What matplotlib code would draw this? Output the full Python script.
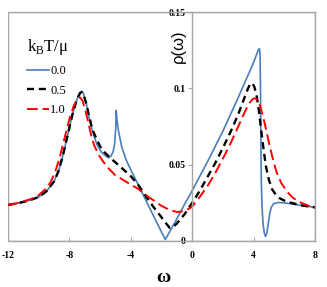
import matplotlib
matplotlib.use("Agg")
import matplotlib.pyplot as plt
from matplotlib.patches import Rectangle

# ---- data ----
x_t0 = [-12, -11.5, -11, -10.5, -10, -9.5, -9.0, -8.7, -8.4, -8.1, -7.8, -7.5, -7.3, -7.2, -7.1,
        -6.9, -6.7, -6.5, -6.2, -5.9, -5.6, -5.45, -5.3, -5.15, -5.05, -4.98, -4.95, -4.9, -4.8,
        -4.6, -4.3, -4.0, -3.5, -3.0, -2.5, -2.0, -1.75, -1.5, -1.0, -0.5, 0, 0.5, 1, 1.5, 2, 2.5,
        3, 3.5, 4, 4.3, 4.38, 4.42, 4.45, 4.47, 4.5, 4.55, 4.62, 4.7, 4.78, 4.86, 4.95, 5.05, 5.15,
        5.3, 5.6, 6, 7, 8]
rho_t0 = [0.0236, 0.0245, 0.0256, 0.027, 0.0288, 0.0325, 0.039, 0.046, 0.057, 0.070, 0.083, 0.093,
          0.0975, 0.098, 0.097, 0.090, 0.080, 0.072, 0.063, 0.058, 0.0555, 0.0545, 0.0555, 0.0585,
          0.064, 0.074, 0.0855, 0.079, 0.072, 0.062, 0.053, 0.0467, 0.0365, 0.0263, 0.016, 0.0059,
          0.001, 0.0055, 0.0145, 0.024, 0.033, 0.0425, 0.052, 0.062, 0.072, 0.083, 0.094, 0.1055,
          0.117, 0.125, 0.126, 0.122, 0.100, 0.070, 0.040, 0.022, 0.011, 0.005, 0.003, 0.005, 0.011,
          0.018, 0.022, 0.0245, 0.0252, 0.025, 0.0235, 0.022]

x_t05 = [-12, -11.5, -11, -10.5, -10, -9.5, -9.0, -8.7, -8.4, -8.1, -7.8, -7.5, -7.3, -7.2, -7.1,
         -6.9, -6.7, -6.5, -6.2, -6.0, -5.7, -5.4, -5.0, -4.5, -4.0, -3.5, -3.0, -2.5, -2.0, -1.7,
         -1.45, -1.2, -1.0, -0.5, 0, 0.5, 1, 1.5, 2, 2.5, 3, 3.3, 3.6, 3.75, 3.9, 4.05, 4.2, 4.35,
         4.5, 4.65, 4.8, 5.0, 5.2, 5.4, 5.7, 6.1, 7, 8]
rho_t05 = [0.0236, 0.0245, 0.0256, 0.027, 0.0288, 0.0325, 0.039, 0.046, 0.057, 0.070, 0.083, 0.093,
           0.097, 0.0975, 0.0965, 0.090, 0.081, 0.073, 0.066, 0.062, 0.058, 0.055, 0.0515, 0.047,
           0.0425, 0.0365, 0.029, 0.022, 0.0155, 0.0115, 0.0085, 0.0095, 0.0115, 0.0175, 0.025,
           0.033, 0.042, 0.051, 0.061, 0.0715, 0.083, 0.091, 0.099, 0.1025, 0.1035, 0.101, 0.095,
           0.085, 0.072, 0.060, 0.049, 0.040, 0.034, 0.031, 0.028, 0.026, 0.0235, 0.022]

x_t10 = [-12, -11.5, -11, -10.5, -10, -9.5, -9.2, -8.9, -8.6, -8.3, -8.0, -7.7, -7.45, -7.3, -7.15,
         -7.0, -6.8, -6.6, -6.4, -6.1, -5.8, -5.4, -5.0, -4.5, -4.0, -3.5, -3.0, -2.5, -2.0, -1.5,
         -1.0, -0.5, 0, 0.5, 1.0, 1.5, 2.0, 2.5, 3.0, 3.4, 3.7, 3.95, 4.1, 4.3, 4.5, 4.7, 4.9, 5.1,
         5.3, 5.5, 5.8, 6.2, 6.6, 7.1, 7.6, 8]
rho_t10 = [0.0236, 0.0245, 0.026, 0.0275, 0.030, 0.0345, 0.039, 0.046, 0.056, 0.068, 0.080, 0.089,
           0.0935, 0.094, 0.092, 0.087, 0.079, 0.070, 0.063, 0.0565, 0.052, 0.047, 0.043, 0.040,
           0.037, 0.034, 0.030, 0.0265, 0.023, 0.0205, 0.019, 0.0195, 0.0225, 0.029, 0.036, 0.0445,
           0.054, 0.064, 0.075, 0.084, 0.090, 0.093, 0.0935, 0.092, 0.086, 0.078, 0.069, 0.060,
           0.052, 0.045, 0.038, 0.032, 0.028, 0.025, 0.023, 0.022]

legend_labels = ["0.0", "0.5", "1.0"]
x_ticks = [-12, -8, -4, 0, 4, 8]
x_ticklabels = ["-12", "-8", "-4", "0", "4", "8"]
y_ticks = [0, 0.05, 0.1, 0.15]
y_ticklabels = ["0", "0.05", "0.1", "0.15"]

W, H = 327, 287
fig = plt.figure(figsize=(W / 100, H / 100), dpi=100)
ax = fig.add_axes([8 / W, (H - 241) / H, (315 - 8) / W, (241 - 12) / H])

ax.plot(x_t0, rho_t0, color="#4a7ebb", lw=1.2, label=legend_labels[0])
ax.plot(x_t05, rho_t05, color="black", lw=1.7, dashes=(3.0, 2.0), label=legend_labels[1])
ax.plot(x_t10, rho_t10, color="#ff0000", lw=1.4, dashes=(5.5, 2.5), label=legend_labels[2])

ax.set_xlim(-12, 8)
ax.set_ylim(0, 0.15)

gray = "#a6a6a6"
for s in ["top", "right", "bottom"]:
    ax.spines[s].set_color(gray)
    ax.spines[s].set_linewidth(1.0)
ax.spines["left"].set_position(("data", 0))
ax.spines["left"].set_color(gray)
ax.spines["left"].set_linewidth(1.0)
ax.add_patch(Rectangle((0, 0), 1, 1, transform=ax.transAxes, fill=False,
                       edgecolor=gray, lw=1.0, zorder=0.5))

serif = "Liberation Serif"
ax.set_xticks(x_ticks)
ax.set_xticklabels(x_ticklabels, fontfamily=serif, fontweight="bold", fontsize=7)
ax.set_yticks(y_ticks)
ax.set_yticklabels(y_ticklabels, fontfamily=serif, fontweight="bold", fontsize=7)
ax.tick_params(axis="x", direction="in", length=3, color=gray, pad=7)
ax.tick_params(axis="y", direction="out", length=3, color=gray, pad=2)

ax.text(-0.9, 0.1275, "ρ(ω)", rotation=90, ha="center", va="center",
        fontsize=12, fontfamily="Liberation Sans")
fig.text(163 / W, 1 - 278 / H, "ω", ha="center", va="center",
         fontsize=14, fontfamily=serif, fontweight="bold")

leg = ax.legend(loc="upper left", bbox_to_anchor=(0.062, 0.89), frameon=False,
                title=r"k$_\mathregular{B}$T/μ", alignment="left",
                prop={"family": serif, "size": 9}, title_fontproperties={"family": serif, "size": 12},
                handlelength=1.75, handletextpad=0.1, labelspacing=0.62, borderpad=0,
                borderaxespad=0)

fig.savefig("out.png", dpi=100)
